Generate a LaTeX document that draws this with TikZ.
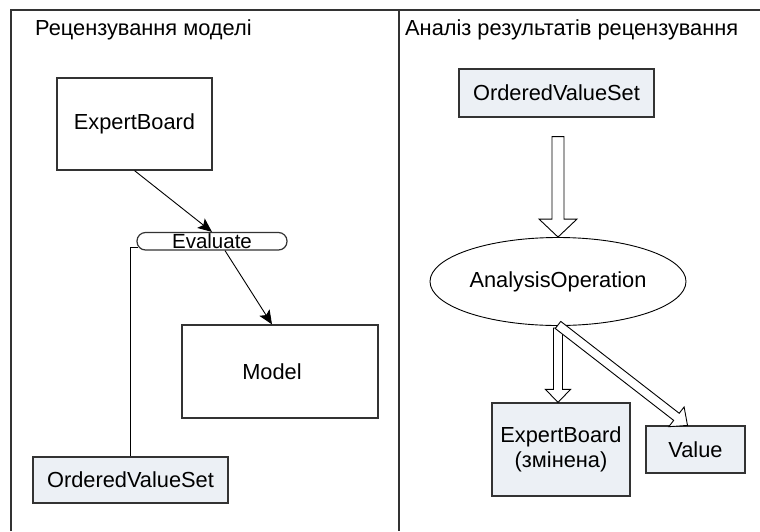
\documentclass[tikz,border=0pt]{standalone}
\usepackage{fontspec}
\setmainfont{Liberation Sans}
\usetikzlibrary{calc,arrows.meta,shapes.geometric}
\definecolor{bordercol}{HTML}{333333}
\definecolor{shade}{HTML}{ECF0F5}
\newcommand\hollowarrow[6]{% name, start, end, halfshaft, halfhead, headlen
  \coordinate (#1b) at ($(#3)!#6!(#2)$);
  \draw[hollow] ($(#2)!#4!90:(#3)$) -- ($(#1b)!#4!90:(#3)$) -- ($(#1b)!#5!90:(#3)$) -- (#3)
    -- ($(#1b)!#5!-90:(#3)$) -- ($(#1b)!#4!-90:(#3)$) -- ($(#2)!#4!-90:(#3)$) -- cycle;
}
\begin{document}
\begin{tikzpicture}[x=1pt,y=-1pt,
  every node/.style={font=\fontsize{21.8}{25}\selectfont, inner sep=0pt},
  box/.style={draw=bordercol, line width=1.2pt, rectangle},
  shadedbox/.style={box, fill=shade},
  frameline/.style={draw=bordercol, line width=1.4pt},
  conn/.style={draw=black, line width=0.9pt, -{Stealth[length=14pt,width=12pt,inset=3pt]}},
  plain/.style={draw=black, line width=0.9pt},
  hollow/.style={draw=black, line width=0.9pt, fill=white, line join=miter}]
\useasboundingbox (0,0) rectangle (760,531);
% frame
\draw[frameline] (11,531) -- (11,10) -- (760,10);
\draw[frameline] (399,10) -- (399,531);
% titles
\node[anchor=west] (t1) at (35,30) {Рецензування моделі};
\node[anchor=west] (t2) at (405,30) {Аналіз результатів рецензування};
% left panel
\node[box, minimum width=155pt, minimum height=92pt] (eb) at (134.5,124) {ExpertBoard};
\node[box, rounded corners=8.5pt, minimum width=150pt, minimum height=17.5pt, text height=15pt, text depth=0pt, fill=white, font=\fontsize{20.5}{24}\selectfont] (ev) at (212,241.25) {Evaluate};
\node[box, minimum width=196pt, minimum height=93pt] (model) at (280,371.5) {\hspace*{-16pt}Model};
\node[shadedbox, minimum width=195pt, minimum height=46pt] (ovs1) at (130.5,480) {OrderedValueSet};
\draw[conn] (eb.south) -- (ev.north);
\draw[conn] ($(ev.south)+(13,0)$) -- ($(model.north)+(-8,0)$);
\draw[plain] (ovs1.north) |- ($(ev.west)+(2,6)$);
% right panel
\node[shadedbox, minimum width=195pt, minimum height=48pt] (ovs2) at (556.5,93) {OrderedValueSet};
\node[draw=black, line width=0.9pt, ellipse, minimum width=256pt, minimum height=88pt] (ao) at (558,281.5) {AnalysisOperation};
\node[shadedbox, minimum width=138pt, minimum height=93pt, align=center] (eb2) at (561,449.5) {ExpertBoard\\(змінена)};
\node[shadedbox, minimum width=99pt, minimum height=47pt] (val) at (695.5,449.5) {Value};
\coordinate (h1s) at ($(ovs2.south)+(1.5,19)$);
\hollowarrow{ha}{h1s}{ao.north}{6pt}{19pt}{18pt}
\coordinate (h2s) at ($(ao.south)+(0,2)$);
\coordinate (h2e) at (ao.south |- eb2.north);
\hollowarrow{hb}{h2s}{h2e}{4.5pt}{12.5pt}{13pt}
\coordinate (h3s) at ($(ao.south)+(0,-1)$);
\coordinate (h3e) at ($(val.north)+(-8,0)$);
\hollowarrow{hc}{h3s}{h3e}{4.5pt}{12.5pt}{14pt}
\end{tikzpicture}
\end{document}
